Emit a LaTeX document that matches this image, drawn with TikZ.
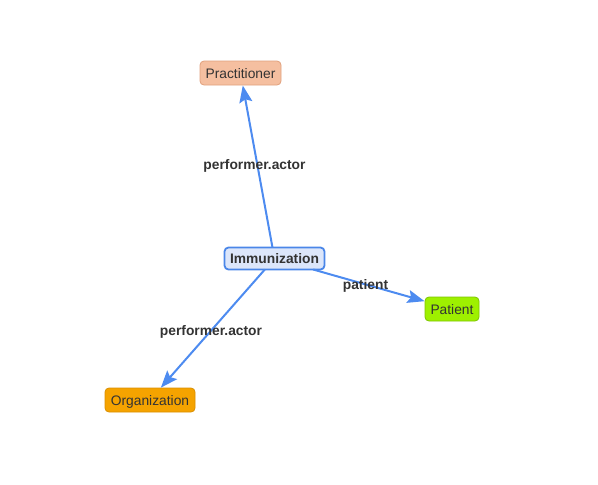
\documentclass[tikz,border=0pt]{standalone}
\usepackage{fontspec}
\setmainfont{Liberation Sans}
\usetikzlibrary{arrows.meta}
\definecolor{edgeblue}{HTML}{4D8BF0}
\definecolor{labelgray}{HTML}{333333}
\definecolor{pracfill}{HTML}{F5BFA0}
\definecolor{pracdraw}{HTML}{E0A07C}
\definecolor{immfill}{HTML}{DCE6FA}
\definecolor{immdraw}{HTML}{4A86E8}
\definecolor{patfill}{HTML}{9EF000}
\definecolor{patdraw}{HTML}{7DC400}
\definecolor{orgfill}{HTML}{F5A300}
\definecolor{orgdraw}{HTML}{D98F00}
\tikzset{
  box/.style={rounded corners=4pt, minimum height=24pt, inner xsep=4pt, outer sep=0pt,
    text height=11pt, text depth=1pt,
    font=\fontsize{13.8}{16}\selectfont, text=labelgray, line width=0.8pt},
  rel/.style={draw=edgeblue, line width=2pt, -{Stealth[length=17pt,width=13pt,inset=3pt]}, shorten >=0.5pt},
  lbl/.style={font=\bfseries\fontsize{13.8}{16}\selectfont, text=labelgray, inner sep=0pt,
    text height=11pt, text depth=1pt}
}
\begin{document}
\begin{tikzpicture}[x=1pt,y=-1pt]
\useasboundingbox (0,0) rectangle (598,485);
\node[box, fill=pracfill, draw=pracdraw, minimum width=81pt] (prac) at (240.5,73) {Practitioner};
\node[box, fill=immfill, draw=immdraw, line width=1.8pt, minimum width=100pt, minimum height=22pt, font=\bfseries\fontsize{13.8}{16}\selectfont] (imm) at (274.5,258.5) {Immunization};
\node[box, fill=patfill, draw=patdraw, minimum width=54pt] (pat) at (452,309) {Patient};
\node[box, fill=orgfill, draw=orgdraw, minimum width=90pt] (org) at (150,400) {Organization};
\draw[rel] (imm) -- (prac);
\draw[rel] (imm) -- (pat);
\draw[rel] (imm) -- (org);
\node[lbl] (l1) at (254.5,164) {performer.actor};
\node[lbl] (l2) at (365.5,284.5) {patient};
\node[lbl] (l3) at (211,330) {performer.actor};
\end{tikzpicture}
\end{document}
